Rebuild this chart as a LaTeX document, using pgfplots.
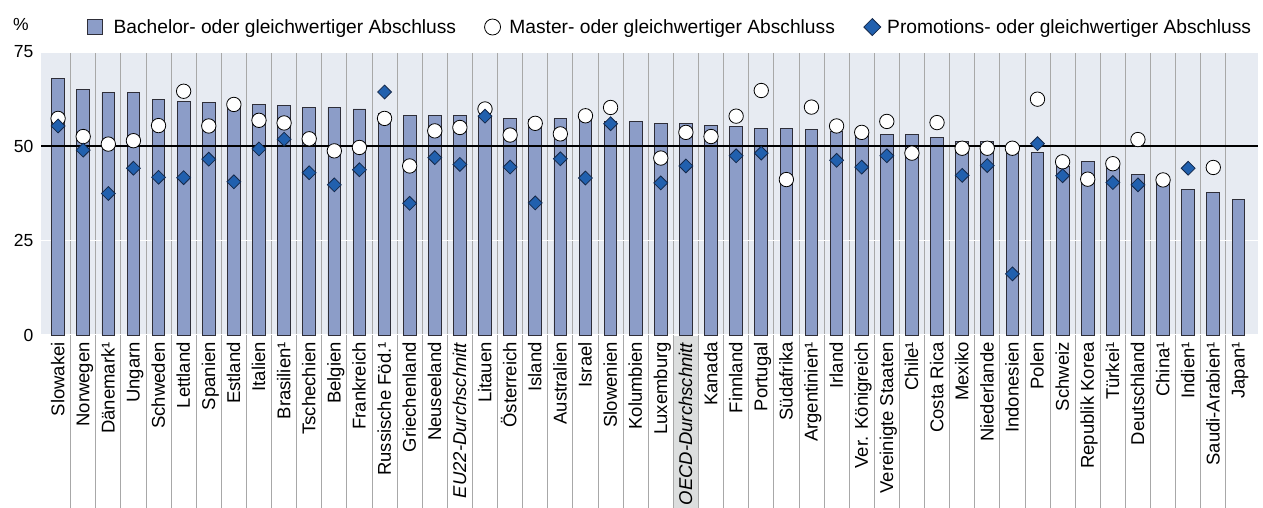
\documentclass[border=0pt]{standalone}
\usepackage{fontspec}
\setmainfont{Liberation Sans}
\usepackage{pgfplots}
\pgfplotsset{compat=1.18}
\pgfplotsset{
  layers/mylayers/.define layer set={axis background, axis grid, oecd, axis ticks, axis lines, axis tick labels, pre main, main, axis descriptions, axis foreground}{},
}
\definecolor{bgcol}{HTML}{E7EBF2}
\definecolor{barcol}{HTML}{8C9DC8}
\definecolor{bardraw}{HTML}{2E2E38}
\definecolor{diacol}{HTML}{2160AE}
\definecolor{diadraw}{HTML}{14284A}
\definecolor{sepcol}{HTML}{A8A8A8}
\definecolor{oecdcol}{HTML}{DCDEDE}
\begin{document}
\begin{tikzpicture}
\node[font=\fontsize{17.5}{19}\selectfont] at (21pt,-24pt) {\%};
\begin{axis}[
  at={(41pt,-335pt)}, anchor=south west,
  width=1217pt, height=283pt, scale only axis,
  xmin=-0.68, xmax=47.78, ymin=0, ymax=75,
  clip=false, set layers=mylayers,
  axis background/.style={fill=bgcol},
  axis line style={draw=none},
  ytick={0,25,50,75},
  ymajorgrids, major grid style={white, line width=1.5pt},
  xtick={0,...,47},
  minor xtick={0.5,1.5,...,46.5},
  xminorgrids, minor grid style={sepcol, line width=0.8pt},
  tick align=outside, xtick pos=left, ytick pos=left,
  major tick length=0pt, minor tick length=173pt,
  xtick style={sepcol, line width=0.8pt},
  ytick style={draw=none},
  xticklabels={Slowakei, Norwegen, Dänemark¹, Ungarn, Schweden, Lettland, Spanien, Estland, Italien, Brasilien¹, Tschechien, Belgien, Frankreich, Russische Föd.¹, Griechenland, Neuseeland, \textit{EU22-Durchschnitt}, Litauen, Österreich, Island, Australien, Israel, Slowenien, Kolumbien, Luxemburg, \textit{OECD-Durchschnitt}, Kanada, Finnland, Portugal, Südafrika, Argentinien¹, Irland, Ver. Königreich, Vereinigte Staaten, Chile¹, Costa Rica, Mexiko, Niederlande, Indonesien, Polen, Schweiz, Republik Korea, Türkei¹, Deutschland, China¹, Indien¹, Saudi-Arabien¹, Japan¹},
  xticklabel style={rotate=90, anchor=east, inner xsep=7pt, inner ysep=0pt, font=\fontsize{18.5}{20}\selectfont, text height=13pt, text depth=0.5pt},
  yticklabel style={anchor=east, inner xsep=7.5pt, inner ysep=0pt, font=\fontsize{17.5}{19}\selectfont, /pgf/number format/assume math mode=true},
  legend columns=3,
  legend cell align=left,
  legend style={at={(axis description cs:0.03804,1.0883)}, anchor=west, draw=none, fill=none, inner sep=0pt, outer sep=0pt, row sep=0pt,
    nodes={inner sep=0pt, font=\fontsize{19.2}{21}\selectfont},
    /tikz/column 1/.style={column sep=11pt},
    /tikz/column 2/.style={column sep=28pt},
    /tikz/column 3/.style={column sep=8.5pt},
    /tikz/column 4/.style={column sep=28.5pt},
    /tikz/column 5/.style={column sep=6pt}},
]
\begin{pgfonlayer}{oecd}
\fill[oecdcol] (axis cs:24.5,-45.85) rectangle (axis cs:25.5,75);
\end{pgfonlayer}
\addplot[ybar, bar width=12.7pt, fill=barcol, draw=bardraw, line width=0.9pt,
  legend image code/.code={\draw[fill=barcol, draw=bardraw, line width=0.9pt] (-7.2pt,-7.2pt) rectangle (7.2pt,7.2pt);}]
coordinates {
(0,68.0) (1,65.0) (2,64.2) (3,64.2) (4,62.5) (5,62.0) (6,61.7) (7,61.3) (8,61.1) (9,60.8)
(10,60.3) (11,60.3) (12,59.9) (13,58.8) (14,58.2) (15,58.2) (16,58.2) (17,57.6) (18,57.3) (19,57.2)
(20,57.3) (21,57.0) (22,56.7) (23,56.5) (24,56.1) (25,56.1) (26,55.6) (27,55.2) (28,54.8) (29,54.8)
(30,54.4) (31,53.9) (32,53.4) (33,53.1) (34,53.1) (35,52.3) (36,51.4) (37,51.4) (38,50.5) (39,48.4)
(40,44.8) (41,45.9) (42,44.3) (43,42.5) (44,40.5) (45,38.6) (46,37.8) (47,36.0)
};
\addlegendentry{Bachelor- oder gleichwertiger Abschluss}
\draw[black, line width=1.8pt] (axis cs:-0.68,50) -- (axis cs:47.78,50);
\addplot[only marks, mark=*, mark size=7.2pt, mark options={fill=white, draw=black, line width=0.8pt},
  legend image code/.code={\draw[fill=white, draw=black, line width=0.8pt] (0pt,0pt) circle (8pt);}]
coordinates {
(0,57.4) (1,52.6) (2,50.6) (3,51.5) (4,55.5) (5,64.6) (6,55.4) (7,61.1) (8,56.9) (9,56.2)
(10,52.0) (11,48.8) (12,49.7) (13,57.4) (14,44.8) (15,54.1) (16,55.0) (17,59.9) (18,53.0) (19,56.1)
(20,53.3) (21,58.1) (22,60.3) (24,46.9) (25,53.7) (26,52.6) (27,58.0) (28,64.8) (29,41.2)
(30,60.4) (31,55.4) (32,53.7) (33,56.6) (34,48.2) (35,56.3) (36,49.5) (37,49.5) (38,49.5) (39,62.5)
(40,45.9) (41,41.3) (42,45.4) (43,51.8) (44,41.1) (46,44.4)
};
\addlegendentry{Master- oder gleichwertiger Abschluss}
\addplot[only marks, mark=square*, mark size=4.9pt, mark options={rotate=45, fill=diacol, draw=diadraw, line width=0.8pt},
  legend image code/.code={\draw[fill=diacol, draw=diadraw, line width=0.8pt] (0pt,8.5pt) -- (8.5pt,0pt) -- (0pt,-8.5pt) -- (-8.5pt,0pt) -- cycle;}]
coordinates {
(0,55.4) (1,49.0) (2,37.5) (3,44.2) (4,41.8) (5,41.7) (6,46.6) (7,40.6) (8,49.3) (9,51.9)
(10,43.0) (11,39.8) (12,43.8) (13,64.4) (14,34.9) (15,47.0) (16,45.2) (17,58.0) (18,44.5) (19,35.0)
(20,46.7) (21,41.6) (22,56.0) (24,40.3) (25,44.8) (27,47.5) (28,48.2)
(31,46.3) (32,44.5) (33,47.5) (36,42.3) (37,44.9) (38,16.2) (39,50.7)
(40,42.2) (42,40.4) (43,39.8) (45,44.2)
};
\addlegendentry{Promotions- oder gleichwertiger Abschluss}
\end{axis}
\pgfresetboundingbox
\path[use as bounding box] (0pt,0pt) rectangle (1263pt,-508pt);
\end{tikzpicture}
\end{document}
